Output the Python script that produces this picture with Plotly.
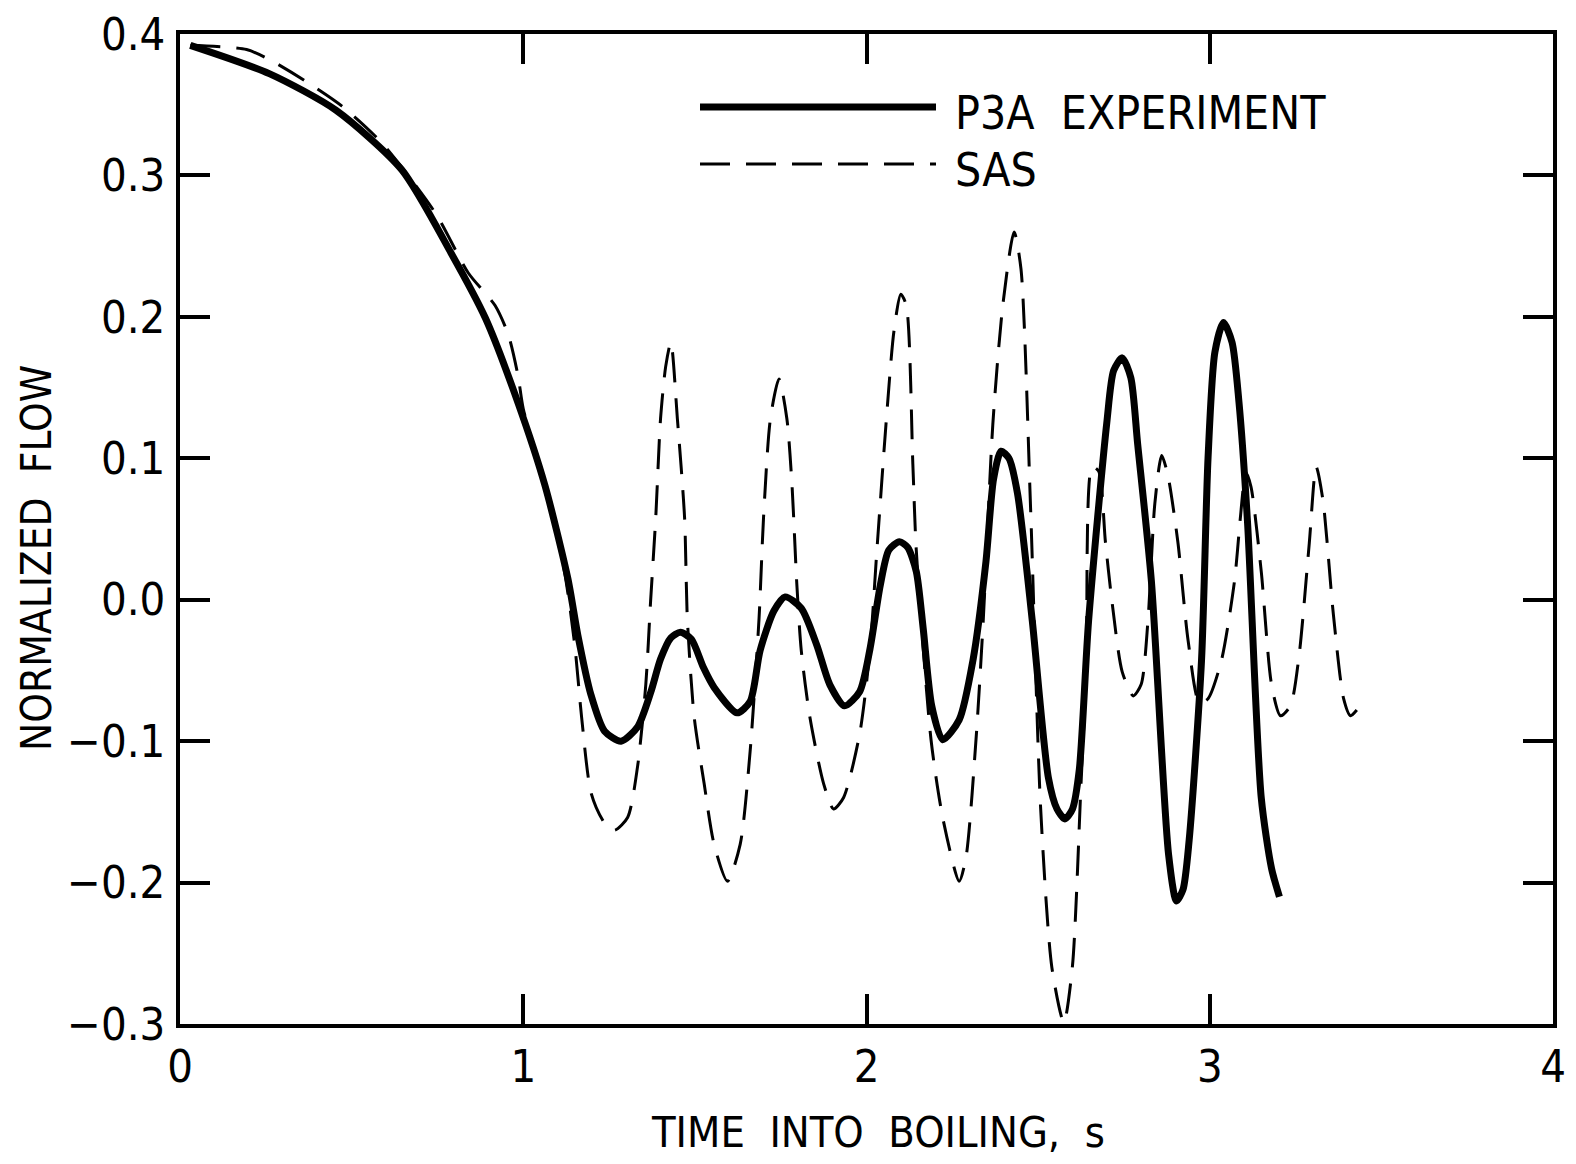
import plotly.graph_objects as go

# P3A experiment (solid)
exp_t = [0.03, 0.26, 0.455, 0.646, 0.79, 0.89, 0.985, 1.063, 1.13, 1.159, 1.197, 1.237, 1.285, 1.333,
         1.372, 1.40, 1.43, 1.458, 1.49, 1.525, 1.556, 1.623, 1.661, 1.69, 1.73, 1.763, 1.81, 1.855, 1.893,
         1.936, 1.98, 2.01, 2.04, 2.065, 2.096, 2.12, 2.145, 2.165, 2.19, 2.222, 2.27, 2.31, 2.348, 2.37,
         2.392, 2.415, 2.44, 2.483, 2.53, 2.555, 2.578, 2.60, 2.62, 2.647, 2.70, 2.72, 2.745, 2.77, 2.79,
         2.83, 2.88, 2.903, 2.922, 2.94, 2.976, 2.995, 3.015, 3.04, 3.065, 3.085, 3.11, 3.15, 3.18, 3.203]
exp_f = [0.392, 0.372, 0.346, 0.304, 0.245, 0.199, 0.139, 0.081, 0.015, -0.025, -0.067, -0.093, -0.100, -0.090,
         -0.065, -0.042, -0.027, -0.023, -0.028, -0.048, -0.062, -0.080, -0.072, -0.036, -0.008, 0.002, -0.006,
         -0.032, -0.060, -0.075, -0.065, -0.035, 0.010, 0.035, 0.041, 0.037, 0.020, -0.020, -0.075, -0.099,
         -0.085, -0.043, 0.027, 0.085, 0.105, 0.100, 0.075, -0.015, -0.126, -0.148, -0.155, -0.148, -0.120,
         -0.015, 0.125, 0.162, 0.171, 0.157, 0.110, 0.013, -0.180, -0.213, -0.205, -0.170, -0.043, 0.100,
         0.175, 0.196, 0.182, 0.140, 0.055, -0.140, -0.190, -0.210]

# SAS calculation (dashed)
sas_t = [0.03, 0.194, 0.26, 0.357, 0.472, 0.588, 0.745, 0.84, 0.918, 0.957, 0.985, 1.0, 1.063, 1.12,
         1.15, 1.17, 1.198, 1.237, 1.266, 1.304, 1.333, 1.357, 1.371, 1.386, 1.40, 1.415, 1.43, 1.449,
         1.47, 1.478, 1.498, 1.527, 1.556, 1.595, 1.632, 1.661, 1.687, 1.70, 1.72, 1.745, 1.768, 1.783,
         1.797, 1.81, 1.835, 1.875, 1.904, 1.933, 1.98, 2.01, 2.03, 2.058, 2.08, 2.10, 2.116, 2.135,
         2.145, 2.188, 2.222, 2.27, 2.29, 2.319, 2.34, 2.368, 2.397, 2.43, 2.45, 2.478, 2.507, 2.54,
         2.575, 2.60, 2.625, 2.64, 2.657, 2.676, 2.696, 2.715, 2.745, 2.777, 2.80, 2.82, 2.84, 2.86,
         2.878, 2.907, 2.937, 2.97, 2.995, 3.034, 3.072, 3.09, 3.105, 3.12, 3.15, 3.18, 3.206, 3.235,
         3.26, 3.29, 3.31, 3.33, 3.36, 3.39, 3.41, 3.435]
sas_f = [0.392, 0.389, 0.382, 0.368, 0.349, 0.323, 0.273, 0.231, 0.208, 0.187, 0.158, 0.135, 0.081, 0.020,
         -0.032, -0.083, -0.137, -0.158, -0.163, -0.154, -0.118, -0.060, -0.001, 0.058, 0.128, 0.165, 0.182, 0.128,
         0.058, -0.013, -0.083, -0.130, -0.173, -0.199, -0.173, -0.107, -0.013, 0.058, 0.128, 0.156, 0.128, 0.081,
         0.011, -0.036, -0.083, -0.130, -0.148, -0.140, -0.095, -0.036, 0.034, 0.128, 0.190, 0.216, 0.208, 0.096,
         0.035, -0.099, -0.154, -0.199, -0.182, -0.099, -0.015, 0.124, 0.208, 0.260, 0.234, 0.065, -0.146, -0.260,
         -0.299, -0.259, -0.130, -0.050, 0.094, 0.091, 0.041, -0.001, -0.051, -0.068, -0.060, -0.015, 0.068, 0.102,
         0.088, 0.041, -0.029, -0.073, -0.070, -0.043, 0.013, 0.060, 0.090, 0.080, 0.020, -0.060, -0.082, -0.075,
         -0.040, 0.040, 0.094, 0.070, -0.010, -0.070, -0.082, -0.076]

x_ticks = [0, 1, 2, 3, 4]
x_labels = ["0", "1", "2", "3", "4"]
y_ticks = [0.4, 0.3, 0.2, 0.1, 0.0, -0.1, -0.2, -0.3]
y_labels = ["0.4", "0.3", "0.2", "0.1", "0.0", "\u22120.1", "\u22120.2", "\u22120.3"]

FONT = "Liberation Sans Narrow, DejaVu Sans Condensed, Roboto Condensed, Arial Narrow, sans-serif"

fig = go.Figure()
fig.add_trace(go.Scatter(x=sas_t, y=sas_f, mode="lines",
                         line=dict(color="black", width=3, dash="30px,16px", shape="spline", smoothing=0.7),
                         showlegend=False))
fig.add_trace(go.Scatter(x=exp_t, y=exp_f, mode="lines",
                         line=dict(color="black", width=7, shape="spline", smoothing=0.7),
                         showlegend=False))

# page body has an 8px margin; figure sized to fit the window without scrolling
OFF = 8
W, H = 1576 - 2 * OFF, 1164 - 2 * OFF
PLOT_L, PLOT_R, PLOT_T, PLOT_B = 180, 1553, 34, 1024   # plot area edges in page pixels
L, T = PLOT_L - OFF, PLOT_T - OFF
R, B = W - (PLOT_R - OFF), H - (PLOT_B - OFF)
pw, ph = W - L - R, H - T - B

def px(xpage):
    return (xpage - OFF - L) / pw

def py(ypage):
    return (H - B - (ypage - OFF)) / ph

# legend artwork
fig.add_shape(type="line", xref="paper", yref="paper", x0=px(700), x1=px(936), y0=py(107), y1=py(107),
              line=dict(color="black", width=7))
fig.add_shape(type="line", xref="paper", yref="paper", x0=px(700), x1=px(936), y0=py(164), y1=py(164),
              line=dict(color="black", width=3, dash="30px,16px"))
fig.add_annotation(xref="paper", yref="paper", x=px(953), y=py(113), text="P3A  EXPERIMENT", showarrow=False,
                   xanchor="left", yanchor="middle", font=dict(family=FONT, size=46, color="black"))
fig.add_annotation(xref="paper", yref="paper", x=px(953), y=py(170), text="SAS", showarrow=False,
                   xanchor="left", yanchor="middle", font=dict(family=FONT, size=46, color="black"))

# axis titles
fig.add_annotation(xref="paper", yref="paper", x=px(878), y=py(1132), text="TIME  INTO  BOILING,  s", showarrow=False,
                   xanchor="center", yanchor="middle", font=dict(family=FONT, size=43, color="black"))
fig.add_annotation(xref="paper", yref="paper", x=px(36), y=py(558), text="NORMALIZED  FLOW", showarrow=False,
                   textangle=-90, xanchor="center", yanchor="middle", font=dict(family=FONT, size=42, color="black"))

axis_common = dict(showgrid=False, zeroline=False, showline=True, linecolor="black", linewidth=3.5,
                   mirror="ticks", ticks="inside", ticklen=30, tickwidth=3.5, tickcolor="black",
                   automargin=False, ticklabeloverflow="allow",
                   tickfont=dict(family=FONT, size=45, color="black"))

fig.update_xaxes(range=[0, 4], tickmode="array", tickvals=x_ticks, ticktext=x_labels, ticklabelstandoff=0, **axis_common)
fig.update_yaxes(range=[-0.3, 0.4], tickmode="array", tickvals=y_ticks, ticktext=y_labels, ticklabelstandoff=2, **axis_common)

fig.update_layout(width=W, height=H, margin=dict(l=L, r=R, t=T, b=B, autoexpand=False),
                  plot_bgcolor="white", paper_bgcolor="white", showlegend=False)

fig.write_html("out.html")
